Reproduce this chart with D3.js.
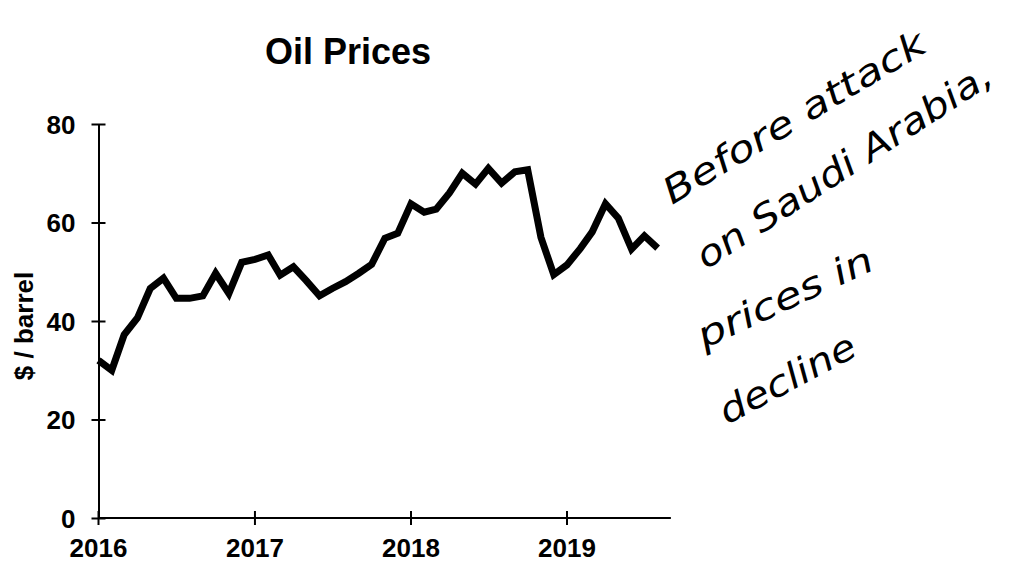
<!DOCTYPE html>
<html>
<head>
<meta charset="utf-8">
<title>Oil Prices</title>
<script src="https://cdn.jsdelivr.net/npm/d3@7"></script>
<style>
  html, body { margin: 0; padding: 0; background: #fff; }
  svg { display: block; }
  .axis path, .axis line { stroke: #000; stroke-width: 2; fill: none; }
  .axis text { font-family: "Liberation Sans", Arial, sans-serif; font-weight: bold; font-size: 26px; fill: #000; }
  .note { font-family: "DejaVu Sans", "Liberation Sans", sans-serif; font-weight: 200; font-style: italic; font-size: 36px; fill: #000; }
</style>
</head>
<body>
<svg width="1009" height="563"></svg>
<script>
// monthly average price, Jan 2016 .. Aug 2019
var months = [
  "2016-01","2016-02","2016-03","2016-04","2016-05","2016-06","2016-07","2016-08","2016-09","2016-10","2016-11","2016-12",
  "2017-01","2017-02","2017-03","2017-04","2017-05","2017-06","2017-07","2017-08","2017-09","2017-10","2017-11","2017-12",
  "2018-01","2018-02","2018-03","2018-04","2018-05","2018-06","2018-07","2018-08","2018-09","2018-10","2018-11","2018-12",
  "2019-01","2019-02","2019-03","2019-04","2019-05","2019-06","2019-07","2019-08"
];
var prices = [
  32.0, 30.0, 37.2, 40.6, 46.6, 48.7, 44.6, 44.6, 45.1, 49.7, 45.6, 51.9,
  52.5, 53.4, 49.3, 51.0, 48.2, 45.1, 46.6, 48.0, 49.7, 51.5, 56.8, 57.8,
  63.8, 62.1, 62.7, 66.0, 70.0, 67.8, 71.0, 68.0, 70.3, 70.7, 57.0, 49.4,
  51.4, 54.7, 58.1, 63.8, 60.9, 54.6, 57.3, 54.8
];
var yTicks = [0, 20, 40, 60, 80];
var xTickYears = ["2016", "2017", "2018", "2019"];
var noteLines = ["Before attack", "on Saudi Arabia,", "prices in", "decline"];

var parseMonth = d3.timeParse("%Y-%m");
var parseYear = d3.timeParse("%Y");
var data = months.map(function(m, i) { return { date: parseMonth(m), value: prices[i] }; });

var svg = d3.select("svg");

var x = d3.scaleTime()
    .domain([parseYear("2016"), parseYear("2019")])
    .range([98.5, 567]);
var xEnd = x(parseMonth("2019-09"));
var y = d3.scaleLinear().domain([0, 80]).range([518, 124]);

// title
svg.append("text")
    .attr("x", 348).attr("y", 64)
    .attr("text-anchor", "middle")
    .style("font-family", "Liberation Sans, Arial, sans-serif")
    .style("font-weight", "bold")
    .style("font-size", "36px")
    .text("Oil Prices");

// y axis
var gy = svg.append("g")
    .attr("class", "axis")
    .attr("transform", "translate(98.5,0)")
    .call(d3.axisLeft(y).tickValues(yTicks).tickSize(7).tickSizeOuter(0).tickPadding(16));
gy.selectAll(".tick line").attr("x1", 7).attr("x2", -7);
gy.selectAll(".tick text").attr("dy", "0.36em");

// x axis
var gx = svg.append("g")
    .attr("class", "axis")
    .attr("transform", "translate(0,518)");
gx.append("line").attr("x1", x.range()[0]).attr("x2", xEnd).attr("y1", 0).attr("y2", 0);
var xt = gx.selectAll(".tick")
    .data(xTickYears)
    .enter().append("g")
    .attr("class", "tick")
    .attr("transform", function(d) { return "translate(" + x(parseYear(d)) + ",0)"; });
xt.append("line").attr("y1", -7).attr("y2", 7);
xt.append("text").attr("y", 39).attr("text-anchor", "middle").text(function(d) { return d; });

// y label
svg.append("text")
    .attr("transform", "translate(33,326) rotate(-90)")
    .attr("text-anchor", "middle")
    .style("font-family", "Liberation Sans, Arial, sans-serif")
    .style("font-weight", "bold")
    .style("font-size", "26px")
    .text("$ / barrel");

// price line
var line = d3.line()
    .x(function(d) { return x(d.date); })
    .y(function(d) { return y(d.value); });

svg.append("path")
    .datum(data)
    .attr("d", line)
    .attr("fill", "none")
    .attr("stroke", "#000")
    .attr("stroke-width", 7)
    .attr("stroke-linejoin", "miter")
    .attr("stroke-linecap", "butt");

// handwritten note
var notePos = [
  { x: 672, y: 205, a: -31, len: 300 },
  { x: 706, y: 270, a: -33, len: 345 },
  { x: 704, y: 349, a: -25, len: 190 },
  { x: 727, y: 425, a: -28, len: 150 }
];
svg.selectAll(".note")
    .data(noteLines)
    .enter().append("text")
    .attr("class", "note")
    .attr("transform", function(d, i) { var p = notePos[i]; return "translate(" + p.x + "," + p.y + ") rotate(" + p.a + ")"; })
    .attr("textLength", function(d, i) { return notePos[i].len; })
    .attr("lengthAdjust", "spacingAndGlyphs")
    .text(function(d) { return d; });
</script>
</body>
</html>
